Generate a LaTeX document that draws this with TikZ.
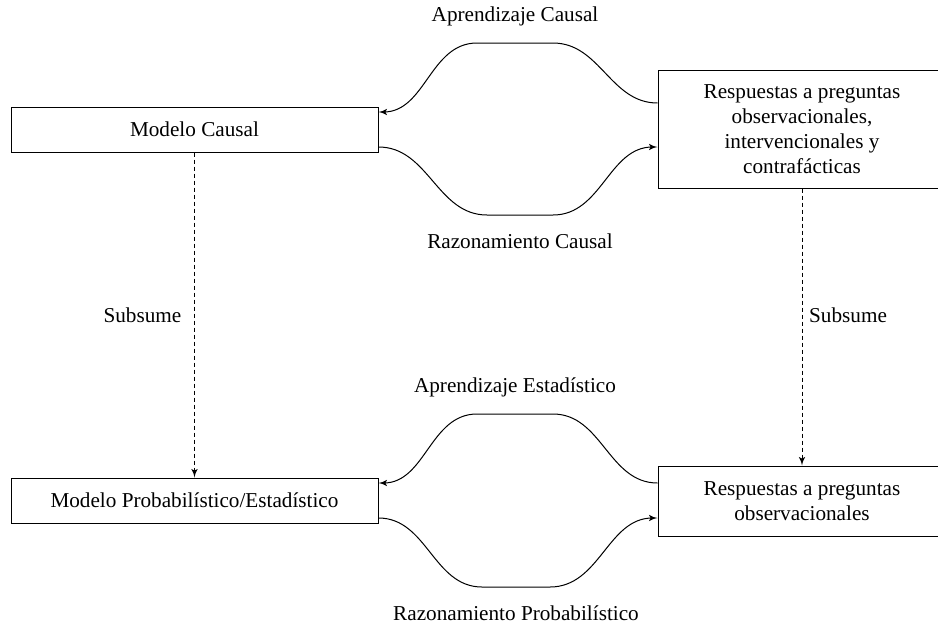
\documentclass[tikz,border=0pt]{standalone}
\usepackage{fontspec}
\setmainfont{Liberation Serif}
\usepackage{tikz}
\usetikzlibrary{arrows}
\tikzset{edge/.style = {->,> = latex'}}

\begin{document}
\begin{tikzpicture}[x=0.5pt,y=-0.5pt,line width=0.5pt,
    main node/.style={rectangle,draw,align=center,inner sep=0pt,font=\fontsize{10.6}{12.5}\selectfont},
    model node/.style={main node,minimum width=183.5pt,minimum height=22.5pt},
    answer node/.style={main node,minimum width=144pt},
    tag/.style={font=\fontsize{10.6}{12.5}\selectfont},
    subsume/.style={->,> = latex',dashed,dash pattern=on 2pt off 1.5pt}]
                \clip (0,0) rectangle (938,623);
                \node[model node] (1) at (194.5,129.5) {Modelo Causal};
                \node[model node] (2) at (194.5,500.5) {Modelo Probabilístico/Estadístico};
                \node[answer node,minimum height=59pt] (3) at (802,129) {Respuestas a preguntas\\observacionales,\\intervencionales y\\contrafácticas};
                \node[answer node,minimum height=35pt] (4) at (802,501) {Respuestas a preguntas\\observacionales};

                % causal level
                \draw[edge] ([yshift=13pt]3.west) to[out=180,in=0] (553,43)
                    -- node[tag,above=5pt] (ac) {Aprendizaje Causal} (477,43)
                    to[out=180,in=0] ([yshift=8.75pt]1.east);
                \draw[edge] ([yshift=-8.75pt]1.east) to[out=0,in=180] (487,215)
                    -- node[tag,below=6pt] (rc) {Razonamiento Causal} (553,215)
                    to[out=0,in=180] ([yshift=-9pt]3.west);

                % statistical level
                \draw[edge] ([yshift=9pt]4.west) to[out=180,in=0] (553,414)
                    -- node[tag,above=5pt] (ae) {Aprendizaje Estadístico} (477,414)
                    to[out=180,in=0] ([yshift=8.75pt]2.east);
                \draw[edge] ([yshift=-8.75pt]2.east) to[out=0,in=180] (482,587)
                    -- node[tag,below=6pt] (rp) {Razonamiento Probabilístico} (550,587)
                    to[out=0,in=180] ([yshift=-8.5pt]4.west);

                % subsumption
                \draw[subsume] (1) -- node[tag,left=3pt] (s1) {Subsume} (2);
                \draw[subsume] (3) -- node[tag,right,pos=0.457] (s2) {Subsume} (4);
            \end{tikzpicture}
\end{document}
